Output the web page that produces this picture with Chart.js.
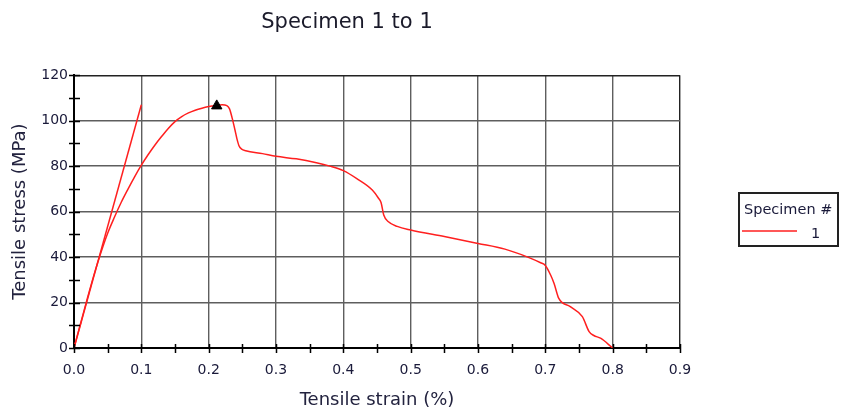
<!DOCTYPE html>
<html>
<head>
<meta charset="utf-8">
<script src="https://cdn.jsdelivr.net/npm/chart.js@4"></script>
<style>
  html, body { margin: 0; padding: 0; background: #fff; }
  #wrap { position: relative; width: 841px; height: 412px; }
</style>
</head>
<body>
<div id="wrap"><canvas id="myChart" width="841" height="412"></canvas></div>
<script>
// specimen 1 : tensile strain (%) vs tensile stress (MPa)
var strain = [0, 0.01, 0.02, 0.03, 0.04, 0.05, 0.06, 0.07, 0.08, 0.09, 0.1, 0.11, 0.12, 0.13, 0.14, 0.15, 0.16,
  0.17, 0.18, 0.19, 0.2, 0.21, 0.22, 0.227, 0.231, 0.235, 0.239, 0.242, 0.245, 0.249, 0.255, 0.28, 0.3, 0.33,
  0.36, 0.38, 0.4, 0.42, 0.443, 0.452, 0.456, 0.46, 0.467, 0.48, 0.5, 0.55, 0.6, 0.64, 0.673, 0.693, 0.7,
  0.708, 0.713, 0.72, 0.737, 0.755, 0.765, 0.772, 0.782, 0.8];
var stress = [0, 11, 22, 32.5, 42, 50.5, 57.5, 64, 69.8, 75.3, 80.4, 85, 89.2, 93, 96.6, 99.6, 101.8,
  103.4, 104.6, 105.5, 106.2, 106.7, 107, 106.6, 105.2, 101, 96, 92, 89, 87.5, 86.8, 85.5, 84.3, 83.2,
  81.5, 80, 78, 74.5, 69.5, 66, 64, 58.5, 55.5, 53.5, 51.9, 49, 46, 43.5, 40.1, 37.5, 36.3,
  32, 28.4, 21.8, 18.2, 13.8, 7.2, 5.5, 4.3, 0];

// modulus line
var modStrain = [0, 0.1];
var modStress = [0, 107];

// break marker
var peakStrain = [0.212];
var peakStress = [106.5];

var xTicks = [0, 0.1, 0.2, 0.3, 0.4, 0.5, 0.6, 0.7, 0.8, 0.9];
var yTicks = [0, 20, 40, 60, 80, 100, 120];

var FONT = "'DejaVu Sans', sans-serif";
var red = "#ff1f1f";
var gridCol = "#5e5e5e";

function pts(xs, ys) {
  var out = [];
  for (var i = 0; i < xs.length; i++) out.push({x: xs[i], y: ys[i]});
  return out;
}
function isMajor(v, list) {
  for (var i = 0; i < list.length; i++) {
    if (Math.abs(list[i] - v) < 1e-6) return true;
  }
  return false;
}

// small tick marks crossing both axes
var crossTicks = {
  id: 'crossTicks',
  afterDraw: function(chart) {
    var c = chart.ctx, a = chart.chartArea;
    var xs = chart.scales.x, ys = chart.scales.y;
    c.save();
    c.strokeStyle = '#000';
    c.lineWidth = 1.5;
    c.beginPath();
    xs.ticks.forEach(function(t) {
      var px = Math.round(xs.getPixelForValue(t.value)) + 0.5;
      c.moveTo(px, a.bottom - 4);
      c.lineTo(px, a.bottom + 5);
    });
    ys.ticks.forEach(function(t) {
      var py = Math.round(ys.getPixelForValue(t.value)) + 0.5;
      c.moveTo(a.left - 5, py);
      c.lineTo(a.left + 6, py);
    });
    c.stroke();
    c.restore();
  }
};

// legend box on the right
var specLegend = {
  id: 'specLegend',
  afterDraw: function(chart) {
    var c = chart.ctx;
    c.save();
    c.strokeStyle = '#222';
    c.lineWidth = 2;
    c.strokeRect(739, 193, 99, 53);
    c.fillStyle = '#1a1a3a';
    c.font = "14.5px " + FONT;
    c.textBaseline = 'alphabetic';
    c.fillText('Specimen #', 744, 214);
    c.fillText('1', 811, 238);
    c.strokeStyle = red;
    c.lineWidth = 1.5;
    c.beginPath();
    c.moveTo(742, 231);
    c.lineTo(797, 231);
    c.stroke();
    c.restore();
  }
};

var ctx = document.getElementById("myChart");
new Chart(ctx, {
  type: 'line',
  data: {
    datasets: [
      {
        data: pts(peakStrain, peakStress),
        showLine: false,
        pointStyle: 'triangle',
        pointRadius: 6,
        backgroundColor: '#000',
        borderColor: '#000',
        borderWidth: 1
      },
      {
        data: pts(strain, stress),
        borderColor: red,
        borderWidth: 1.5,
        pointRadius: 0,
        cubicInterpolationMode: 'monotone'
      },
      {
        data: pts(modStrain, modStress),
        borderColor: red,
        borderWidth: 1.5,
        pointRadius: 0
      }
    ]
  },
  options: {
    responsive: false,
    animation: false,
    layout: { padding: { left: 14, right: 161, top: 0, bottom: 0 } },
    plugins: {
      legend: { display: false },
      tooltip: { enabled: false },
      title: {
        display: true,
        text: 'Specimen 1 to 1',
        color: '#1a1a2a',
        font: { family: FONT, size: 21, weight: 'normal', lineHeight: 1.2 },
        padding: { top: 10, bottom: 40 }
      }
    },
    scales: {
      x: {
        type: 'linear',
        min: 0,
        max: 0.9,
        afterFit: function(s) { s.height = 64; },
        ticks: {
          stepSize: 0.05,
          autoSkip: false,
          maxRotation: 0,
          padding: 14,
          color: '#1a1a3a',
          font: { family: FONT, size: 14 },
          callback: function(v) { return isMajor(v, xTicks) ? v.toFixed(1) : ''; }
        },
        grid: {
          drawTicks: false,
          lineWidth: 1.4,
          color: function(c) {
            if (!c.tick) return 'rgba(0,0,0,0)';
            if (Math.abs(c.tick.value - 0.9) < 1e-6) return '#222';
            return isMajor(c.tick.value, xTicks) ? gridCol : 'rgba(0,0,0,0)';
          }
        },
        border: { color: '#000', width: 2 },
        title: {
          display: true,
          text: 'Tensile strain (%)',
          color: '#23233f',
          font: { family: FONT, size: 18, lineHeight: 1 },
          padding: { top: 0, bottom: 3 }
        }
      },
      y: {
        type: 'linear',
        min: 0,
        max: 120,
        afterFit: function(s) { s.width = 60; },
        ticks: {
          stepSize: 10,
          autoSkip: false,
          padding: 6,
          color: '#1a1a3a',
          font: { family: FONT, size: 14 },
          callback: function(v) { return isMajor(v, yTicks) ? String(v) : ''; }
        },
        grid: {
          drawTicks: false,
          lineWidth: 1.4,
          color: function(c) {
            if (!c.tick) return 'rgba(0,0,0,0)';
            if (c.tick.value === 120) return '#222';
            return isMajor(c.tick.value, yTicks) ? gridCol : 'rgba(0,0,0,0)';
          }
        },
        border: { color: '#000', width: 2 },
        title: {
          display: true,
          text: 'Tensile stress (MPa)',
          color: '#23233f',
          font: { family: FONT, size: 18, lineHeight: 1 },
          padding: { top: -3, bottom: 0 }
        }
      }
    }
  },
  plugins: [crossTicks, specLegend]
});
</script>
</body>
</html>
